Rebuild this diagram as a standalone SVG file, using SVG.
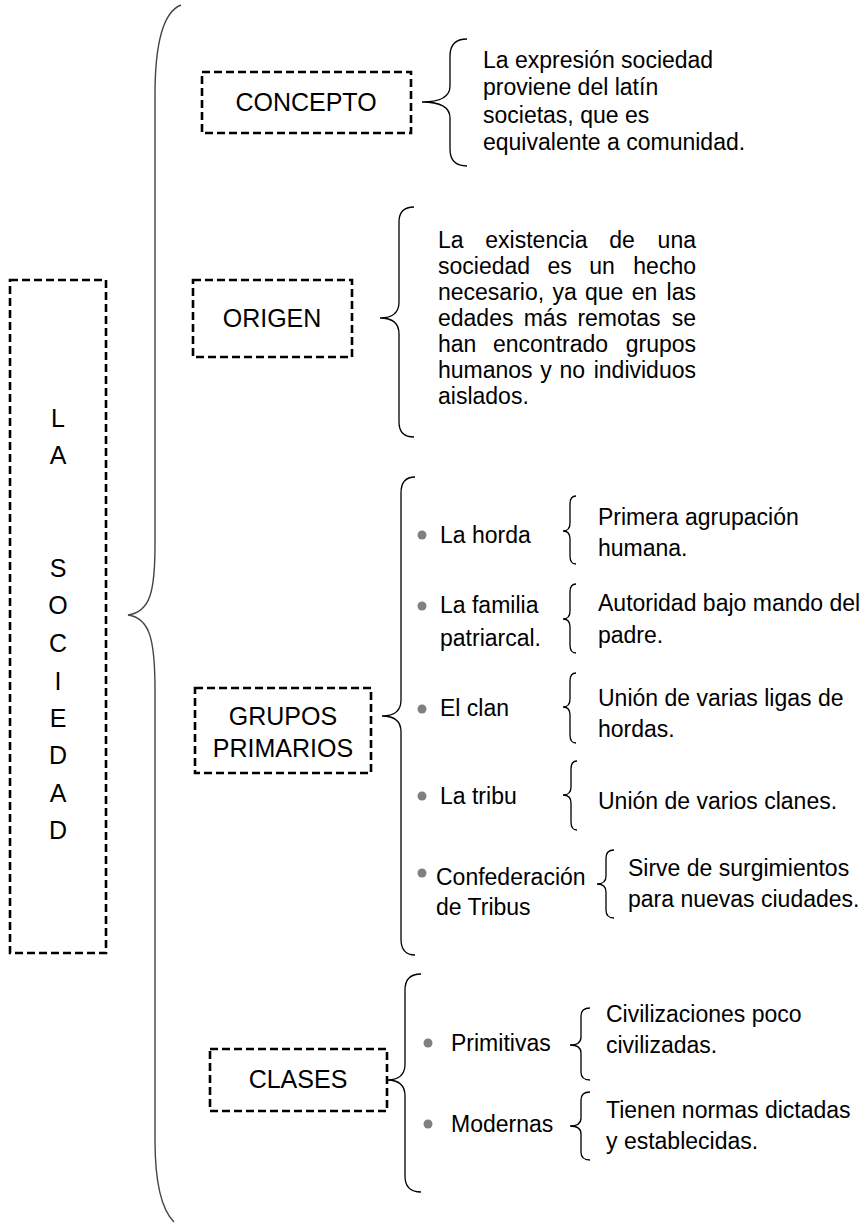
<svg xmlns="http://www.w3.org/2000/svg" width="867" height="1223" viewBox="0 0 867 1223">
  <style>
    text { font-family: "Liberation Sans", Arial, Helvetica, sans-serif; fill: #000; }
    .box { fill: none; stroke: #000; stroke-width: 2.6; stroke-dasharray: 8 4; }
    .lbl { font-size: 25px; text-anchor: middle; }
    .txt { font-size: 23px; }
    .brace { fill: none; stroke: #000; stroke-width: 1.3; }
    .big { fill: none; stroke: #444; stroke-width: 1.4; }
    .dot { fill: #808080; }
  </style>
  <rect width="867" height="1223" fill="#fff"/>

  <!-- braces -->
  <g id="connectors">
    <path class="big" d="M181,5 C163,12 155,45 155,95 L155,545 C155,592 150,612 128,615 C150,618 155,640 155,690 L155,1140 C155,1185 162,1210 174,1222"/>
    <path class="brace" d="M467,39 Q450,39 450,56 L450,86 Q450,102 422,102 Q450,102 450,118 L450,149 Q450,166 467,166"/>
    <path class="brace" d="M414,207 Q399,207 399,222 L399,302 Q399,318 380,318 Q399,318 399,334 L399,422 Q399,437 414,437"/>
    <path class="brace" d="M415,477 Q401,477 401,493 L401,700 Q401,716 382,716 Q401,716 401,732 L401,939 Q401,955 415,955"/>
    <path class="brace" d="M421,974 Q405,974 405,990 L405,1064 Q405,1080 387,1080 Q405,1080 405,1096 L405,1176 Q405,1192 421,1192"/>
    <path class="brace" d="M576,496 Q570,496 570,504 L570,523 Q570,531 563,531 Q570,531 570,539 L570,556 Q570,564 576,564"/>
    <path class="brace" d="M576,584 Q570,584 570,592 L570,611 Q570,619 563,619 Q570,619 570,627 L570,645 Q570,653 576,653"/>
    <path class="brace" d="M576,673 Q570,673 570,681 L570,699 Q570,707 563,707 Q570,707 570,715 L570,735 Q570,743 576,743"/>
    <path class="brace" d="M577,761 Q571,761 571,769 L571,787 Q571,795 563,795 Q571,795 571,803 L571,822 Q571,830 577,830"/>
    <path class="brace" d="M614,850 Q606,850 606,858 L606,876 Q606,884 597,884 Q606,884 606,892 L606,910 Q606,918 614,918"/>
    <path class="brace" d="M590,1008 Q581,1008 581,1016 L581,1037 Q581,1045 570,1045 Q581,1045 581,1053 L581,1072 Q581,1080 590,1080"/>
    <path class="brace" d="M590,1092 Q581,1092 581,1100 L581,1118 Q581,1126 570,1126 Q581,1126 581,1134 L581,1152 Q581,1160 590,1160"/>
  </g>

  <!-- root -->
  <g id="node-la-sociedad">
    <rect class="box" x="10" y="280" width="96" height="673"/>
    <g class="lbl">
      <text x="58" y="427">L</text>
      <text x="58" y="464">A</text>
      <text x="58" y="577">S</text>
      <text x="58" y="614">O</text>
      <text x="58" y="652">C</text>
      <text x="58" y="690">I</text>
      <text x="58" y="727">E</text>
      <text x="58" y="764">D</text>
      <text x="58" y="802">A</text>
      <text x="58" y="839">D</text>
    </g>
  </g>

  <g id="node-concepto">
    <rect class="box" x="202" y="72" width="209" height="61"/>
    <text class="lbl" x="306" y="111">CONCEPTO</text>
  </g>
  <g id="node-concepto-text" class="txt">
    <text x="483" y="68">La expresión sociedad</text>
    <text x="483" y="95">proviene del latín</text>
    <text x="483" y="123">societas, que es</text>
    <text x="483" y="150">equivalente a comunidad.</text>
  </g>

  <g id="node-origen">
    <rect class="box" x="193" y="280" width="159" height="77"/>
    <text class="lbl" x="272" y="327">ORIGEN</text>
  </g>
  <g id="node-origen-text" class="txt">
    <text y="248"><tspan x="438">La</tspan><tspan x="485.3">existencia</tspan><tspan x="609.3">de</tspan><tspan x="657.6">una</tspan></text>
    <text y="274"><tspan x="438">sociedad</tspan><tspan x="547.5">es</tspan><tspan x="589.3">un</tspan><tspan x="633.3">hecho</tspan></text>
    <text y="300"><tspan x="438">necesario,</tspan><tspan x="552.4">ya</tspan><tspan x="585">que</tspan><tspan x="631.7">en</tspan><tspan x="666.6">las</tspan></text>
    <text y="326"><tspan x="438">edades</tspan><tspan x="523.7">más</tspan><tspan x="577.4">remotas</tspan><tspan x="671.7">se</tspan></text>
    <text y="352"><tspan x="438">han</tspan><tspan x="493">encontrado</tspan><tspan x="625.7">grupos</tspan></text>
    <text y="378"><tspan x="438">humanos</tspan><tspan x="540.3">y</tspan><tspan x="559.5">no</tspan><tspan x="593.7">individuos</tspan></text>
    <text y="404" x="438">aislados.</text>
  </g>

  <g id="node-grupos">
    <rect class="box" x="195" y="688" width="176" height="85"/>
    <text class="lbl" x="283" y="725">GRUPOS</text>
    <text class="lbl" x="283" y="757">PRIMARIOS</text>
  </g>

  <g id="node-horda" class="txt">
    <circle class="dot" cx="422" cy="535" r="4.5"/>
    <text x="440" y="543">La horda</text>
    <text x="598" y="525">Primera agrupación</text>
    <text x="598" y="556">humana.</text>
  </g>
  <g id="node-familia" class="txt">
    <circle class="dot" cx="422" cy="606" r="4.5"/>
    <text x="440" y="613">La familia</text>
    <text x="440" y="646">patriarcal.</text>
    <text x="598" y="611">Autoridad bajo mando del</text>
    <text x="598" y="643">padre.</text>
  </g>
  <g id="node-clan" class="txt">
    <circle class="dot" cx="422" cy="709" r="4.5"/>
    <text x="440" y="716">El clan</text>
    <text x="598" y="706">Unión de varias ligas de</text>
    <text x="598" y="737">hordas.</text>
  </g>
  <g id="node-tribu" class="txt">
    <circle class="dot" cx="422" cy="796" r="4.5"/>
    <text x="440" y="804">La tribu</text>
    <text x="598" y="809">Unión de varios clanes.</text>
  </g>
  <g id="node-confederacion" class="txt">
    <circle class="dot" cx="422" cy="873" r="4.5"/>
    <text x="436" y="885">Confederación</text>
    <text x="436" y="915">de Tribus</text>
    <text x="628" y="876">Sirve de surgimientos</text>
    <text x="628" y="907">para nuevas ciudades.</text>
  </g>

  <g id="node-clases">
    <rect class="box" x="210" y="1049" width="177" height="62"/>
    <text class="lbl" x="298" y="1088">CLASES</text>
  </g>
  <g id="node-primitivas" class="txt">
    <circle class="dot" cx="428" cy="1043" r="4.5"/>
    <text x="451" y="1051">Primitivas</text>
    <text x="606" y="1022">Civilizaciones poco</text>
    <text x="606" y="1053">civilizadas.</text>
  </g>
  <g id="node-modernas" class="txt">
    <circle class="dot" cx="428" cy="1124" r="4.5"/>
    <text x="451" y="1132">Modernas</text>
    <text x="606" y="1118">Tienen normas dictadas</text>
    <text x="606" y="1149">y establecidas.</text>
  </g>
</svg>
